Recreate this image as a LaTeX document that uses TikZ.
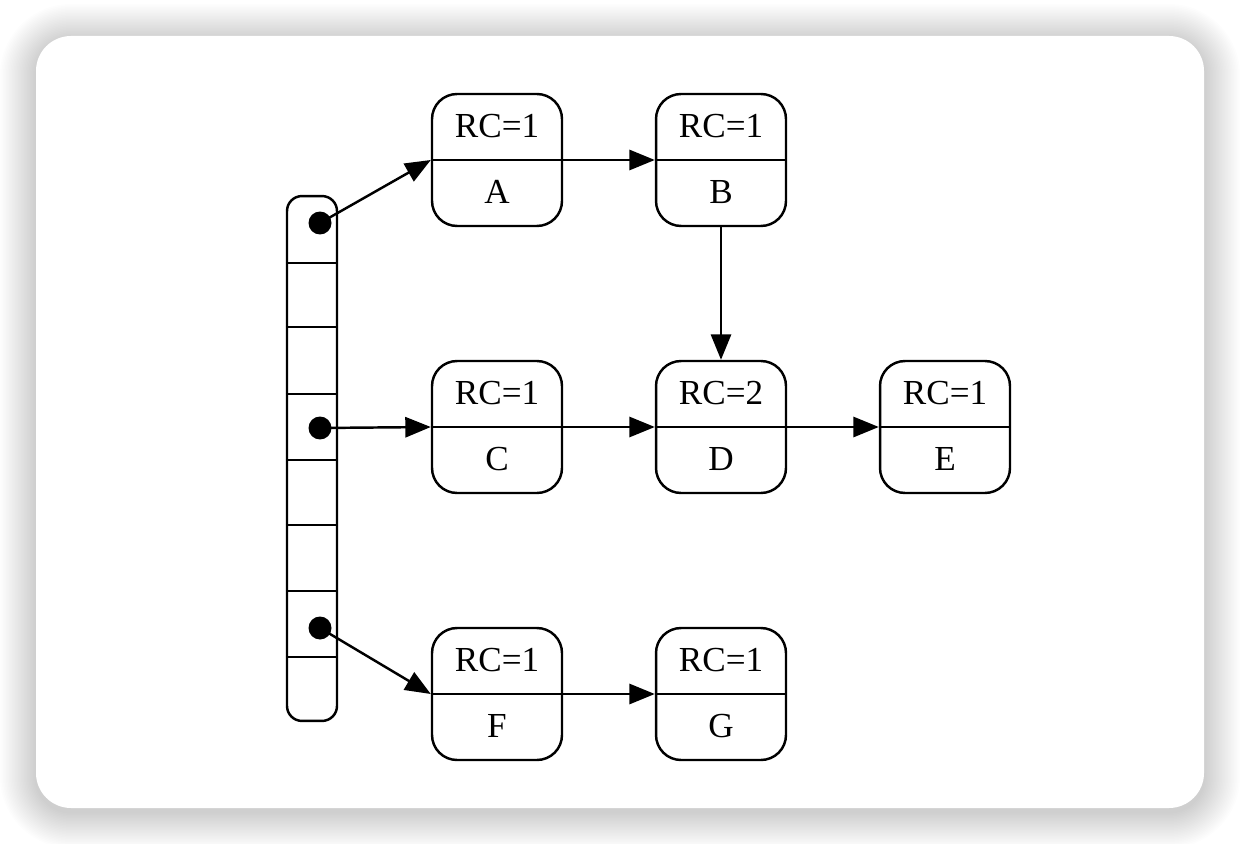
\documentclass[tikz,border=0pt]{standalone}
\usepackage{fontspec}
\setmainfont{Liberation Serif}
\usetikzlibrary{arrows.meta}
\tikzset{
  rec/.style={draw, line width=1.4pt, rectangle, rounded corners=0.5cm, minimum width=2.6cm, minimum height=2.64cm, inner sep=0pt},
  divider/.style={line width=1.4pt},
  txt/.style={inner sep=0pt, font=\fontsize{20}{22}\selectfont},
  arr/.style={line width=1.4pt, -{Triangle[length=14.5pt,width=11.5pt]}},
  dot/.style={circle, fill=black, minimum size=0.46cm, inner sep=0pt},
  arraybox/.style={draw, line width=1.4pt, rectangle, rounded corners=0.3cm, minimum width=1.0cm, minimum height=10.5cm, inner sep=0pt}
}
\newcommand\rcnode[5]{%
  \node[rec] (#1) at (#2,#3) {};
  \draw[divider] (#1.west) -- (#1.east);
  \node[txt] (#1t) at ([yshift=0.68cm]#1.center) {RC=#4};
  \node[txt] (#1b) at ([yshift=-0.64cm]#1.center) {#5};
}
\begin{document}
\begin{tikzpicture}[x=0.02cm,y=-0.02cm]
\useasboundingbox (0,0) rectangle (1240,844);
% shadow
\foreach \i [evaluate=\i as \r using (35+1.5*\i)*0.02] in {1,...,24}{
  \fill[black,opacity=0.0075,rounded corners=\r cm] (36-1.5*\i,40-1.5*\i) rectangle (1204+1.5*\i,812+1.5*\i);
}
\fill[white, rounded corners=0.7cm] (36,36) rectangle (1204,808);
% array
\node[arraybox] (arr) at (312,458.5) {};
\foreach \yy [count=\k] in {263,327,394,460,525,591,657}{
  \draw[divider] (arr.west |- 0,\yy) coordinate (l\k) -- (arr.east |- 0,\yy) coordinate (r\k);
}
\node[dot] (d1) at (320,223) {};
\node[dot] (d2) at (320,428) {};
\node[dot] (d3) at (320,628) {};
% records
\rcnode{A}{497}{160}{1}{A}
\rcnode{B}{721}{160}{1}{B}
\rcnode{C}{497}{427}{1}{C}
\rcnode{D}{721}{427}{2}{D}
\rcnode{E}{945}{427}{1}{E}
\rcnode{F}{497}{694}{1}{F}
\rcnode{G}{721}{694}{1}{G}
% edges
\draw[arr] (d1.center) -- (A.west);
\draw[arr] (A.east) -- (B.west);
\draw[arr] (B.south) -- (D.north);
\draw[arr] (d2.center) -- (C.west);
\draw[arr] (C.east) -- (D.west);
\draw[arr] (D.east) -- (E.west);
\draw[arr] (d3.center) -- (F.west);
\draw[arr] (F.east) -- (G.west);
\end{tikzpicture}
\end{document}
